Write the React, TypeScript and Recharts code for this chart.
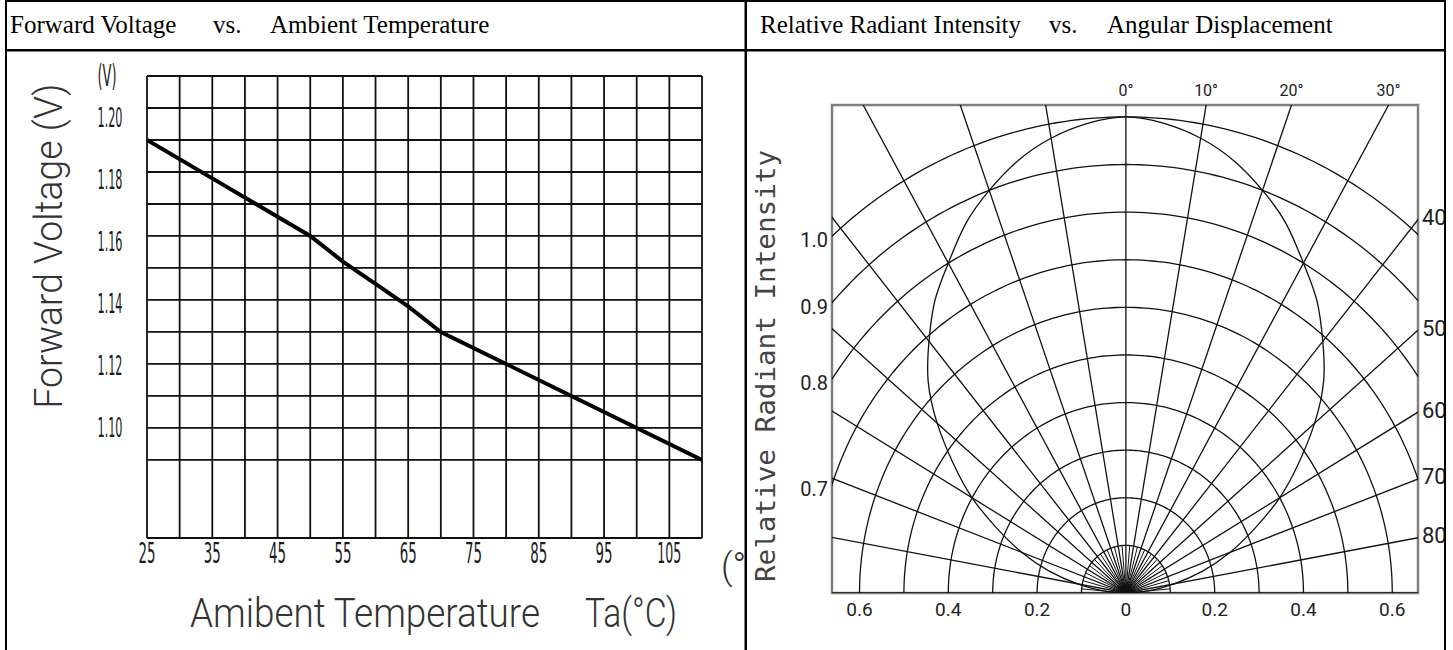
import React from 'react';
import {
  LineChart,
  ComposedChart,
  Line,
  XAxis,
  YAxis,
  CartesianGrid,
  ReferenceLine,
  ReferenceArea,
} from 'recharts';

// ---------------- Left chart: Forward Voltage vs Ambient Temperature ----------------
const temperatures = [25, 35, 45, 50, 55, 60, 65, 70, 80, 90, 100, 110];
const forwardVoltage = [1.19, 1.178, 1.166, 1.16, 1.152, 1.145, 1.138, 1.13, 1.12, 1.11, 1.1, 1.09];
const tempGridTicks = [25, 30, 35, 40, 45, 50, 55, 60, 65, 70, 75, 80, 85, 90, 95, 100, 105, 110];
const tempLabelTicks = [25, 35, 45, 55, 65, 75, 85, 95, 105];
const voltGridTicks = [1.09, 1.1, 1.11, 1.12, 1.13, 1.14, 1.15, 1.16, 1.17, 1.18, 1.19, 1.2, 1.21];
const voltLabelTicks = [1.2, 1.18, 1.16, 1.14, 1.12, 1.1];
const voltLabels = ['1.20', '1.18', '1.16', '1.14', '1.12', '1.10'];
const tempDomain = [25, 110];
const voltDomain = [1.0656, 1.21];

// ---------------- Right chart: Relative Radiant Intensity vs Angular Displacement ----------------
const radialAngles = [-90, -80, -70, -60, -50, -40, -30, -20, -10, 0, 10, 20, 30, 40, 50, 60, 70, 80, 90];
const innerAngles = [-85, -75, -65, -55, -45, -35, -25, -15, -5, 5, 15, 25, 35, 45, 55, 65, 75, 85];
const arcLevels = [0.1, 0.2, 0.3, 0.4, 0.5, 0.6, 0.7, 0.8, 0.9, 1.0];
const patternAngles = [
  -90, -85, -80, -75, -70, -65, -60, -55, -50, -45, -40, -35, -30, -25, -20, -15, -10, -5, 0,
  5, 10, 15, 20, 25, 30, 35, 40, 45, 50, 55, 60, 65, 70, 75, 80, 85, 90,
];
const patternIntensity = [
  0, 0.05, 0.11, 0.18, 0.25, 0.32, 0.4, 0.475, 0.555, 0.63, 0.69, 0.75, 0.8, 0.855, 0.9, 0.94, 0.97, 0.99, 1.0,
  0.99, 0.97, 0.94, 0.9, 0.855, 0.8, 0.75, 0.69, 0.63, 0.555, 0.475, 0.4, 0.32, 0.25, 0.18, 0.11, 0.05, 0,
];
const topAngles = [0, 10, 20, 30];
const topAngleLabels = ['0°', '10°', '20°', '30°'];
const sideAngles = [40, 50, 60, 70, 80];
const sideAngleLabels = ['40', '50', '60', '70', '80'];
const leftLevels = [1.0, 0.9, 0.8, 0.7];
const leftLevelLabels = ['1.0', '0.9', '0.8', '0.7'];
const bottomTicks = [-0.6, -0.4, -0.2, 0, 0.2, 0.4, 0.6];
const bottomLabels = ['0.6', '0.4', '0.2', '0', '0.2', '0.4', '0.6'];
const xRange = [-0.662, 0.658];
const yRange = [0, 1.025];

const rad = (d: number) => (d * Math.PI) / 180;

const vfData = temperatures.map((t, i) => ({ t, v: forwardVoltage[i] }));

type P = { x: number; y: number | null };

const radialData: P[] = [];
radialAngles.forEach((a) => {
  radialData.push({ x: 0, y: 0 });
  radialData.push({ x: 1.6 * Math.sin(rad(a)), y: 1.6 * Math.cos(rad(a)) });
  radialData.push({ x: 0, y: null });
});

const innerData: P[] = [];
innerAngles.forEach((a) => {
  innerData.push({ x: 0, y: 0 });
  innerData.push({ x: 0.1 * Math.sin(rad(a)), y: 0.1 * Math.cos(rad(a)) });
  innerData.push({ x: 0, y: null });
});

const arcData: P[] = [];
arcLevels.forEach((r) => {
  for (let a = -90; a <= 90; a += 1) {
    arcData.push({ x: r * Math.sin(rad(a)), y: r * Math.cos(rad(a)) });
  }
  arcData.push({ x: 0, y: null });
});

const patternData: P[] = patternAngles.map((a, i) => ({
  x: patternIntensity[i] * Math.sin(rad(a)),
  y: patternIntensity[i] * Math.cos(rad(a)),
}));

const topTickValues = topAngles.map((a) => yRange[1] * Math.tan(rad(a)));
const rightTickValues = sideAngles.map((a) => xRange[1] / Math.tan(rad(a)));
const leftTickValues = leftLevels.map((r) => Math.sqrt(r * r - xRange[0] * xRange[0]));

const cad = 'Roboto, "DejaVu Sans", sans-serif';

const VoltTick = (props: any) => {
  const { y, payload } = props;
  const i = voltLabelTicks.findIndex((v) => Math.abs(v - payload.value) < 1e-6);
  if (i < 0) return <g />;
  return (
    <text
      x={110}
      y={y + 10 - 2 * i}
      textAnchor="middle"
      dominantBaseline="central"
      fontFamily='"DejaVu Sans", sans-serif'
      fontSize={26}
      textLength={25}
      lengthAdjust="spacingAndGlyphs"
      fill="#1a1a1a"
    >
      {voltLabels[i]}
    </text>
  );
};

const TempTick = (props: any) => {
  const { x, payload } = props;
  const i = tempLabelTicks.findIndex((v) => Math.abs(v - payload.value) < 1e-6);
  if (i < 0) return <g />;
  const label = String(tempLabelTicks[i]);
  return (
    <text
      x={x}
      y={553}
      textAnchor="middle"
      dominantBaseline="central"
      fontFamily='"DejaVu Sans", sans-serif'
      fontSize={28}
      textLength={label.length > 2 ? 24 : 17}
      lengthAdjust="spacingAndGlyphs"
      fill="#1a1a1a"
    >
      {label}
    </text>
  );
};

const TopTick = (props: any) => {
  const { x, index } = props;
  return (
    <text x={x} y={90} textAnchor="middle" dominantBaseline="central" fontFamily={cad} fontSize={16} fill="#222">
      {topAngleLabels[index]}
    </text>
  );
};

const RightTick = (props: any) => {
  const { y, index } = props;
  return (
    <text x={676} y={y - 2} textAnchor="start" dominantBaseline="central" fontFamily={cad} fontSize={22} fill="#222">
      {sideAngleLabels[index]}
    </text>
  );
};

const LeftTick = (props: any) => {
  const { y, index } = props;
  return (
    <text x={82} y={y + 4} textAnchor="end" dominantBaseline="central" fontFamily={cad} fontSize={20} fill="#222">
      {leftLevelLabels[index]}
    </text>
  );
};

const BottomTick = (props: any) => {
  const { x, index } = props;
  return (
    <text x={x} y={609} textAnchor="middle" dominantBaseline="central" fontFamily={cad} fontSize={19} fill="#222">
      {bottomLabels[index]}
    </text>
  );
};

const gridStroke = '#111';

export default function App() {
  return (
    <div style={{ position: 'absolute', left: 0, top: 0, width: 1453, height: 650, background: '#fff' }}>
      {/* Left cell */}
      <div style={{ position: 'absolute', left: 0, top: 0, width: 745, height: 650, overflow: 'hidden' }}>
        <LineChart width={745} height={650} data={vfData} margin={{ top: 76, right: 43, bottom: 82, left: 87 }}>
          <CartesianGrid stroke={gridStroke} strokeWidth={1.8} />
          <XAxis
            dataKey="t"
            type="number"
            domain={tempDomain}
            ticks={tempGridTicks}
            interval={0}
            tick={(p: any) => <TempTick {...p} />}
            axisLine={false}
            tickLine={false}
            height={30}
            allowDataOverflow
          />
          <YAxis
            type="number"
            domain={voltDomain}
            ticks={voltGridTicks}
            interval={0}
            tick={(p: any) => <VoltTick {...p} />}
            axisLine={false}
            tickLine={false}
            width={60}
            allowDataOverflow
          />
          <ReferenceLine y={voltDomain[0]} stroke={gridStroke} strokeWidth={2} />
          <Line dataKey="v" type="linear" stroke="#000" strokeWidth={4} dot={false} isAnimationActive={false} />
        </LineChart>
        <svg width={745} height={650} style={{ position: 'absolute', left: 0, top: 0 }}>
          <text
            x={107}
            y={75}
            textAnchor="middle"
            dominantBaseline="central"
            fontFamily='"DejaVu Sans", sans-serif'
            fontSize={30}
            textLength={19}
            lengthAdjust="spacingAndGlyphs"
            fill="#222"
          >
            (V)
          </text>
          <text
            x={62}
            y={246}
            transform="rotate(-90 62 246)"
            textAnchor="middle"
            fontFamily={cad}
            fontWeight={300}
            fontSize={39}
            textLength={325}
            lengthAdjust="spacingAndGlyphs"
            fill="#333"
          >
            Forward Voltage (V)
          </text>
          <text
            x={190}
            y={627}
            fontFamily={cad}
            fontWeight={300}
            fontSize={40}
            textLength={350}
            lengthAdjust="spacingAndGlyphs"
            fill="#333"
          >
            Amibent Temperature
          </text>
          <text
            x={585}
            y={627}
            fontFamily={cad}
            fontWeight={300}
            fontSize={40}
            textLength={92}
            lengthAdjust="spacingAndGlyphs"
            fill="#333"
          >
            Ta(°C)
          </text>
          <text x={721} y={579} fontFamily={cad} fontWeight={300} fontSize={36} fill="#333">
            (°C)
          </text>
        </svg>
      </div>

      {/* Right cell */}
      <div style={{ position: 'absolute', left: 746, top: 0, width: 698, height: 650, overflow: 'hidden' }}>
        <ComposedChart width={698} height={650} margin={{ top: 75, right: 0, bottom: 27, left: 41 }}>
          <XAxis
            xAxisId="b"
            dataKey="x"
            type="number"
            orientation="bottom"
            domain={xRange}
            ticks={bottomTicks}
            interval={0}
            tick={(p: any) => <BottomTick {...p} />}
            axisLine={false}
            tickLine={false}
            height={30}
            allowDataOverflow
          />
          <XAxis
            xAxisId="t"
            dataKey="x"
            type="number"
            orientation="top"
            domain={xRange}
            ticks={topTickValues}
            interval={0}
            tick={(p: any) => <TopTick {...p} />}
            axisLine={false}
            tickLine={false}
            height={30}
            allowDataOverflow
          />
          <YAxis
            yAxisId="l"
            type="number"
            domain={yRange}
            ticks={leftTickValues}
            interval={0}
            tick={(p: any) => <LeftTick {...p} />}
            axisLine={false}
            tickLine={false}
            width={45}
            allowDataOverflow
          />
          <YAxis
            yAxisId="r"
            type="number"
            orientation="right"
            domain={yRange}
            ticks={rightTickValues}
            interval={0}
            tick={(p: any) => <RightTick {...p} />}
            axisLine={false}
            tickLine={false}
            width={26}
            allowDataOverflow
          />
          <Line
            xAxisId="b"
            yAxisId="l"
            data={arcData}
            dataKey="y"
            type="linear"
            stroke={gridStroke}
            strokeWidth={1.3}
            dot={false}
            isAnimationActive={false}
          />
          <Line
            xAxisId="b"
            yAxisId="l"
            data={radialData}
            dataKey="y"
            type="linear"
            stroke={gridStroke}
            strokeWidth={1.3}
            dot={false}
            isAnimationActive={false}
          />
          <Line
            xAxisId="b"
            yAxisId="l"
            data={innerData}
            dataKey="y"
            type="linear"
            stroke={gridStroke}
            strokeWidth={1}
            dot={false}
            isAnimationActive={false}
          />
          <Line
            xAxisId="t"
            yAxisId="r"
            data={patternData}
            dataKey="y"
            type="natural"
            stroke={gridStroke}
            strokeWidth={1.3}
            dot={false}
            isAnimationActive={false}
          />
          <ReferenceArea
            xAxisId="b"
            yAxisId="l"
            x1={xRange[0]}
            x2={xRange[1]}
            y1={yRange[0]}
            y2={yRange[1]}
            fill="none"
            fillOpacity={0}
            stroke="#808080"
            strokeWidth={2.5}
            ifOverflow="visible"
          />
        </ComposedChart>
        <svg width={698} height={650} style={{ position: 'absolute', left: 0, top: 0 }}>
          <text
            x={29}
            y={366}
            transform="rotate(-90 29 366)"
            textAnchor="middle"
            fontFamily='"DejaVu Sans Mono", monospace'
            fontSize={27}
            textLength={432}
            lengthAdjust="spacingAndGlyphs"
            fill="#444"
          >
            Relative Radiant Intensity
          </text>
        </svg>
      </div>

      {/* Table borders and headers */}
      <svg width={1453} height={650} style={{ position: 'absolute', left: 0, top: 0 }}>
        <rect x={5} y={0} width={1441} height={2} fill="#000" />
        <rect x={5} y={49} width={1441} height={2.5} fill="#000" />
        <rect x={5} y={0} width={2} height={650} fill="#000" />
        <rect x={744.5} y={0} width={2.5} height={650} fill="#000" />
        <rect x={1444} y={0} width={2} height={650} fill="#000" />
        <g fontFamily='"Liberation Serif", "Times New Roman", serif' fontSize={25} fill="#000">
          <text x={10} y={33}>Forward Voltage</text>
          <text x={213} y={33}>vs.</text>
          <text x={270} y={33}>Ambient Temperature</text>
          <text x={760} y={33}>Relative Radiant Intensity</text>
          <text x={1049} y={33}>vs.</text>
          <text x={1107} y={33}>Angular Displacement</text>
        </g>
      </svg>
    </div>
  );
}
